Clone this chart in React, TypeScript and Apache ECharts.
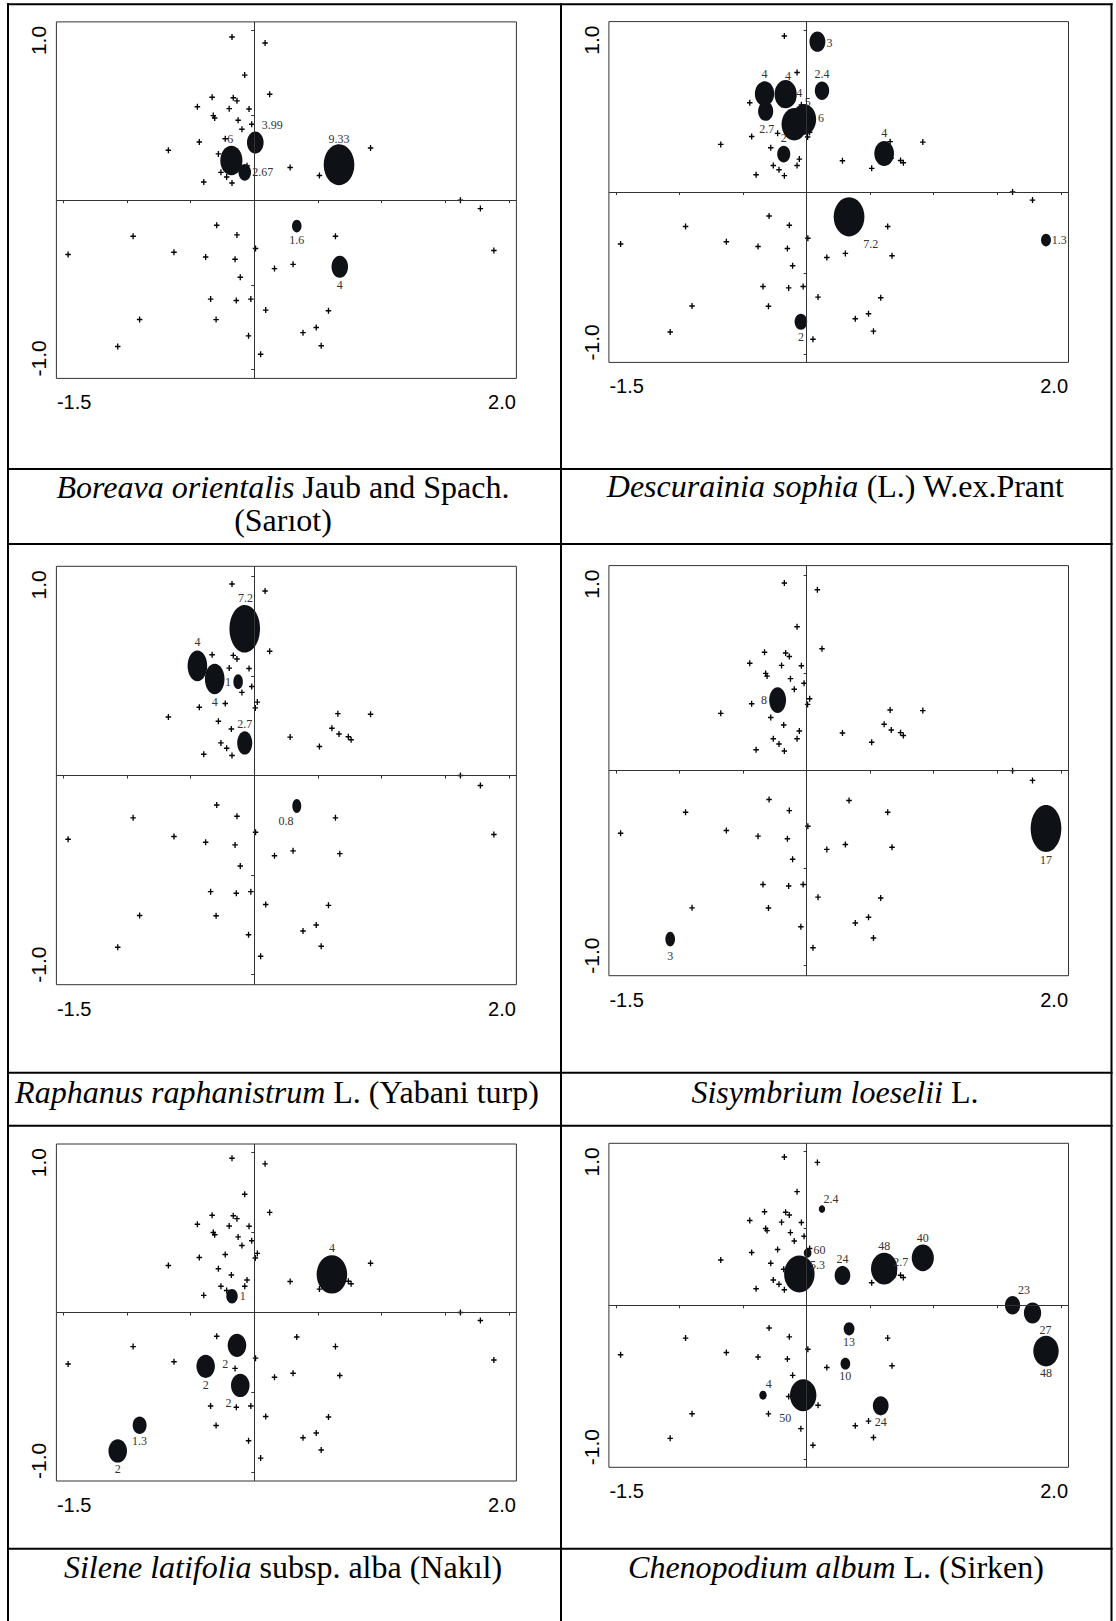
import React, { useEffect, useRef } from "react";
import * as echarts from "echarts";

// ---------------- data ----------------
const X_RANGE = [-1.555, 2.06];
const Y_RANGE = [-1.052, 1.052];
const X_TICKS = [-1.5, -1.0, -0.5, 0, 0.5, 1.0, 1.5, 2.0];
const Y_TICKS = [-1.0, -0.5, 0, 0.5, 1.0];
const X_TICK_LABELS = [-1.5, 2.0];
const Y_TICK_LABELS = [-1.0, 1.0];

// shared site ordination scores (site no. = index + 1)
const sites: [number, number][] = [
  [-0.175, 0.963], [0.085, 0.928], [-0.075, 0.738], [0.121, 0.625], [-0.331, 0.607],
  [-0.165, 0.604], [-0.136, 0.586], [-0.447, 0.551], [-0.197, 0.54], [-0.041, 0.538],
  [-0.322, 0.499], [-0.311, 0.485], [-0.127, 0.472], [-0.02, 0.448], [-0.097, 0.418],
  [0.024, 0.369], [0.008, 0.34], [-0.228, 0.362], [-0.432, 0.343], [-0.675, 0.294],
  [-0.282, 0.273], [-0.18, 0.234], [-0.057, 0.203], [-0.075, 0.164], [-0.262, 0.164],
  [-0.217, 0.137], [-0.175, 0.101], [-0.397, 0.107], [0.282, 0.193], [0.512, 0.146],
  [0.657, 0.311], [0.61, 0.238], [0.666, 0.209], [0.739, 0.195], [0.761, 0.18],
  [0.914, 0.308], [1.62, 0], [1.777, -0.05], [1.883, -0.297], [-1.463, -0.321],
  [-0.952, -0.213], [-0.631, -0.307], [-0.382, -0.336], [-0.295, -0.148], [-0.136, -0.205],
  [-0.151, -0.349], [0.01, -0.285], [-0.11, -0.455], [0.159, -0.404], [0.305, -0.379],
  [0.638, -0.213], [0.334, -0.153], [0.672, -0.393], [-0.343, -0.584], [-0.141, -0.592],
  [-0.027, -0.584], [0.09, -0.649], [0.583, -0.653], [-0.901, -0.704], [-0.3, -0.705],
  [0.487, -0.752], [0.383, -0.782], [-0.045, -0.801], [0.526, -0.859], [-1.073, -0.864],
  [0.05, -0.909],
];

// bubbles: [site no., diameter in axis units, value label]
type Bubble = [number, number, string];
const boreavaBubbles: Bubble[] = [
  [17, 0.131, "3.99"], [22, 0.174, "6"], [24, 0.099, "2.67"], [33, 0.241, "9.33"],
  [52, 0.075, "1.6"], [53, 0.13, "4"],
];
const descurainiaBubbles: Bubble[] = [
  [2, 0.125, "3"], [5, 0.152, "4"], [6, 0.174, "4"], [7, 0.11, "4"], [11, 0.119, "2.7"],
  [15, 0.2, "5"], [14, 0.19, "6"], [4, 0.113, "2.4"], [22, 0.103, "2"], [32, 0.155, "4"],
  [52, 0.242, "7.2"], [39, 0.078, "1.3"], [63, 0.099, "2"],
];
const raphanusBubbles: Bubble[] = [
  [3, 0.24, "7.2"], [8, 0.154, "4"], [12, 0.154, "4"], [13, 0.075, "1"], [24, 0.118, "2.7"],
  [52, 0.07, "0.8"],
];
const sisymbriumBubbles: Bubble[] = [
  [18, 0.133, "8"], [39, 0.241, "17"], [65, 0.076, "3"],
];
const sileneBubbles: Bubble[] = [
  [32, 0.24, "4"], [27, 0.09, "1"], [45, 0.146, "2"], [43, 0.145, "2"], [48, 0.146, "2"],
  [59, 0.109, "1.3"], [65, 0.146, "2"],
];
const chenopodiumBubbles: Bubble[] = [
  [4, 0.05, "2.4"], [17, 0.061, "60"], [23, 0.24, "5.3"], [29, 0.123, "24"], [32, 0.207, "48"],
  [33, 0.09, "2.7"], [36, 0.174, "40"], [37, 0.12, "23"], [38, 0.136, "27"], [39, 0.2, "48"],
  [52, 0.085, "13"], [50, 0.076, "10"], [54, 0.058, "4"], [56, 0.208, "50"], [58, 0.124, "24"],
];

const captionItalic = [
  "Boreava orientalis", "Descurainia sophia", "Raphanus raphanistrum",
  "Sisymbrium loeselii", "Silene latifolia", "Chenopodium album",
];
const captionRest = [
  " Jaub and Spach.", " (L.) W.ex.Prant", " L. (Yabani turp)",
  " L.", " subsp. alba (Nakıl)", " L. (Sirken)",
];
const captionSecondLine = ["(Sarıot)", "", "", "", "", ""];

// ---------------- layout (pixels) ----------------
const boreavaLabelOffsets = [[17, -18], [-1, -21.6], [18, 0], [0, -26], [0, 14], [0, 18.4]];
const descurainiaLabelOffsets = [
  [12, 1], [0, -19.3], [2.3, -18.3], [10, -3.7], [1, 18], [13.4, -22.6], [17, -1],
  [0, -16.8], [0, -15.8], [0, -20.2], [21.8, 26.8], [13.2, 0], [0, 15],
];
const raphanusLabelOffsets = [[0.7, -31.2], [0, -23.7], [0, 23], [-10, 0.7], [0, -19.2], [-10.7, 15]];
const sisymbriumLabelOffsets = [[-13.6, 0], [0, 31.6], [0, 16.5]];
const sileneLabelOffsets = [[0, -26], [10.7, 0], [-11.8, 18.3], [0, 18.7], [-11.8, 17.3], [0, 15.7], [0, 18.3]];
const chenopodiumLabelOffsets = [
  [9, -10.3], [11.8, -3], [18.2, -9], [0, -16.3], [0, -23], [9.6, -11.3], [0, -19.7],
  [11.4, -15.3], [12.9, 16.7], [0, 22.3], [0, 13.3], [0, 12.7], [5.7, -11], [-17.9, 22.3], [0, 16],
];

const panelBoxes = [
  { left: 56.4, top: 21.9, width: 460, height: 356.5 },
  { left: 608.9, top: 21.6, width: 459.6, height: 340.8 },
  { left: 56.4, top: 566.3, width: 460, height: 418.4 },
  { left: 608.9, top: 565.6, width: 459.6, height: 410.1 },
  { left: 56.4, top: 1144, width: 460, height: 337 },
  { left: 608.9, top: 1143.3, width: 459.6, height: 324 },
];
const panelBubbles = [
  boreavaBubbles, descurainiaBubbles, raphanusBubbles,
  sisymbriumBubbles, sileneBubbles, chenopodiumBubbles,
];
const panelLabelOffsets = [
  boreavaLabelOffsets, descurainiaLabelOffsets, raphanusLabelOffsets,
  sisymbriumLabelOffsets, sileneLabelOffsets, chenopodiumLabelOffsets,
];
// caption centre x, middle y of first line
const captionPos = [
  [283, 487], [835.5, 486], [277, 1092], [835, 1092], [283, 1567], [836, 1567],
];
const verticalRules = [8, 561, 1111.5];
const horizontalRules = [4.3, 469, 544, 1072.8, 1125.8, 1548.7];

const PLUS = "path://M0,38H38V0H62V38H100V62H62V100H38V62H0Z";
const ELLIPSE =
  "path://M100,50C100,77.6 77.6,100 50,100C22.4,100 0,77.6 0,50C0,22.4 22.4,0 50,0C77.6,0 100,22.4 100,50Z";
const SANS = "'Liberation Sans', Arial, sans-serif";
const SERIF = "'Liberation Serif', 'Times New Roman', serif";

const fmt = (v: number) => v.toFixed(1);

function buildOption() {
  const ctx = document.createElement("canvas").getContext("2d") as CanvasRenderingContext2D;
  const tw = (t: string, size: number) => {
    ctx.font = `${size}px 'Liberation Sans'`;
    return ctx.measureText(t).width;
  };
  const X_FONT = 20;
  const Y_FONT = 21;

  const grid: any[] = [];
  const xAxis: any[] = [];
  const yAxis: any[] = [];
  const series: any[] = [];

  panelBoxes.forEach((box, i) => {
    const ux = box.width / (X_RANGE[1] - X_RANGE[0]);
    const uy = box.height / (Y_RANGE[1] - Y_RANGE[0]);
    grid.push({
      ...box,
      show: true,
      borderColor: "#333",
      borderWidth: 1,
      backgroundColor: "transparent",
      containLabel: false,
      outerBoundsMode: "none",
    });

    const wA = tw(fmt(X_TICK_LABELS[0]), X_FONT);
    const wB = tw(fmt(X_TICK_LABELS[1]), X_FONT);
    const oL = (X_TICK_LABELS[0] - X_RANGE[0]) * ux;
    const oR = (X_RANGE[1] - X_TICK_LABELS[1]) * ux;
    const padA = Math.max(0, 2 * (0.5 + wA / 2 - oL));
    const padB = Math.max(0, 2 * (0.5 + wB / 2 - oR));

    xAxis.push({
      gridIndex: i,
      type: "value",
      min: X_RANGE[0],
      max: X_RANGE[1],
      axisLine: { show: false },
      splitLine: { show: false },
      axisTick: {
        show: true, inside: false, length: 3, customValues: X_TICKS,
        lineStyle: { color: "#333", width: 1 },
      },
      axisLabel: {
        show: true,
        customValues: X_TICK_LABELS,
        margin: 14,
        fontSize: X_FONT,
        fontFamily: SANS,
        color: "#000",
        formatter: (v: number) => (v < 0 ? `{a|${fmt(v)}}` : `{b|${fmt(v)}}`),
        rich: {
          a: { fontSize: X_FONT, fontFamily: SANS, color: "#000", padding: [0, 0, 0, padA] },
          b: { fontSize: X_FONT, fontFamily: SANS, color: "#000", padding: [0, padB, 0, 0] },
        },
      },
    });

    const lT = tw(fmt(Y_TICK_LABELS[1]), Y_FONT);
    const lB = tw(fmt(Y_TICK_LABELS[0]), Y_FONT);
    const oT = (Y_RANGE[1] - Y_TICK_LABELS[1]) * uy;
    const oB = (Y_TICK_LABELS[0] - Y_RANGE[0]) * uy;
    const padT = Math.max(0, 2 * (4 + lT / 2 - oT));
    const padU = Math.max(0, 2 * (2 + lB / 2 - oB));

    yAxis.push({
      gridIndex: i,
      type: "value",
      min: Y_RANGE[0],
      max: Y_RANGE[1],
      axisLine: { show: false },
      splitLine: { show: false },
      axisTick: {
        show: true, inside: false, length: 3, customValues: Y_TICKS,
        lineStyle: { color: "#333", width: 1 },
      },
      axisLabel: {
        show: true,
        customValues: Y_TICK_LABELS,
        rotate: 90,
        margin: 7,
        fontSize: Y_FONT,
        fontFamily: SANS,
        color: "#000",
        formatter: (v: number) => (v > 0 ? `{t|${fmt(v)}}` : `{u|${fmt(v)}}`),
        rich: {
          t: { fontSize: Y_FONT, fontFamily: SANS, color: "#000", padding: [0, padT, 0, 0] },
          u: { fontSize: Y_FONT, fontFamily: SANS, color: "#000", padding: [0, 0, 0, padU] },
        },
      },
    });

    series.push({
      type: "scatter",
      xAxisIndex: i,
      yAxisIndex: i,
      symbol: PLUS,
      symbolSize: [5.5, 6],
      itemStyle: { color: "#000", opacity: 1 },
      silent: true,
      z: 2,
      data: sites.map((s) => [s[0], s[1]]),
      markLine: {
        silent: true,
        symbol: ["none", "none"],
        label: { show: false },
        lineStyle: { color: "#333", width: 1, type: "solid", opacity: 1 },
        emphasis: { disabled: true },
        data: [{ xAxis: 0 }, { yAxis: 0 }],
      },
    });

    const offs = panelLabelOffsets[i];
    series.push({
      type: "scatter",
      xAxisIndex: i,
      yAxisIndex: i,
      symbol: ELLIPSE,
      silent: true,
      z: 3,
      itemStyle: { color: "#0e1116", opacity: 1 },
      data: panelBubbles[i].map((b, k) => {
        const s = sites[b[0] - 1];
        return {
          value: [s[0], s[1]],
          symbolSize: [b[1] * ux, b[1] * uy],
          label: {
            show: true,
            position: "inside",
            offset: offs[k],
            formatter: b[2],
            fontFamily: SERIF,
            fontSize: 12,
            color: "#333",
            textBorderWidth: 0,
            textBorderColor: "transparent",
          },
        };
      }),
    });
  });

  const graphic: any[] = [];
  verticalRules.forEach((x) => {
    graphic.push({
      type: "line", z: 100, silent: true,
      shape: { x1: x, y1: 3.3, x2: x, y2: 1621 },
      style: { stroke: "#000", lineWidth: 2 },
    });
  });
  horizontalRules.forEach((y) => {
    graphic.push({
      type: "line", z: 100, silent: true,
      shape: { x1: 7, y1: y, x2: 1112.5, y2: y },
      style: { stroke: "#000", lineWidth: 2 },
    });
  });
  const CAP = 32;
  captionItalic.forEach((it, i) => {
    const [cx, cy] = captionPos[i];
    graphic.push({
      type: "text", z: 100, silent: true, x: cx, y: cy,
      style: {
        text: `{i|${it}}{n|${captionRest[i]}}`,
        align: "center",
        verticalAlign: "middle",
        fontSize: CAP,
        fontFamily: SERIF,
        fill: "#000",
        rich: {
          i: { fontStyle: "italic", fontSize: CAP, fontFamily: SERIF, fill: "#000" },
          n: { fontSize: CAP, fontFamily: SERIF, fill: "#000" },
        },
      },
    });
    if (captionSecondLine[i]) {
      graphic.push({
        type: "text", z: 100, silent: true, x: cx, y: cy + 33,
        style: {
          text: captionSecondLine[i],
          align: "center",
          verticalAlign: "middle",
          fontSize: CAP,
          fontFamily: SERIF,
          fill: "#000",
        },
      });
    }
  });

  return {
    animation: false,
    backgroundColor: "#fff",
    grid,
    xAxis,
    yAxis,
    series,
    graphic,
  };
}

export default function App() {
  const ref = useRef<HTMLDivElement>(null);
  useEffect(() => {
    if (!ref.current) return;
    const chart = echarts.init(ref.current, undefined, { renderer: "svg" });
    chart.setOption(buildOption() as any);
    return () => chart.dispose();
  }, []);
  return (
    <div
      ref={ref}
      style={{ position: "absolute", left: 0, top: 0, width: 1116, height: 1621, background: "#fff" }}
    />
  );
}
